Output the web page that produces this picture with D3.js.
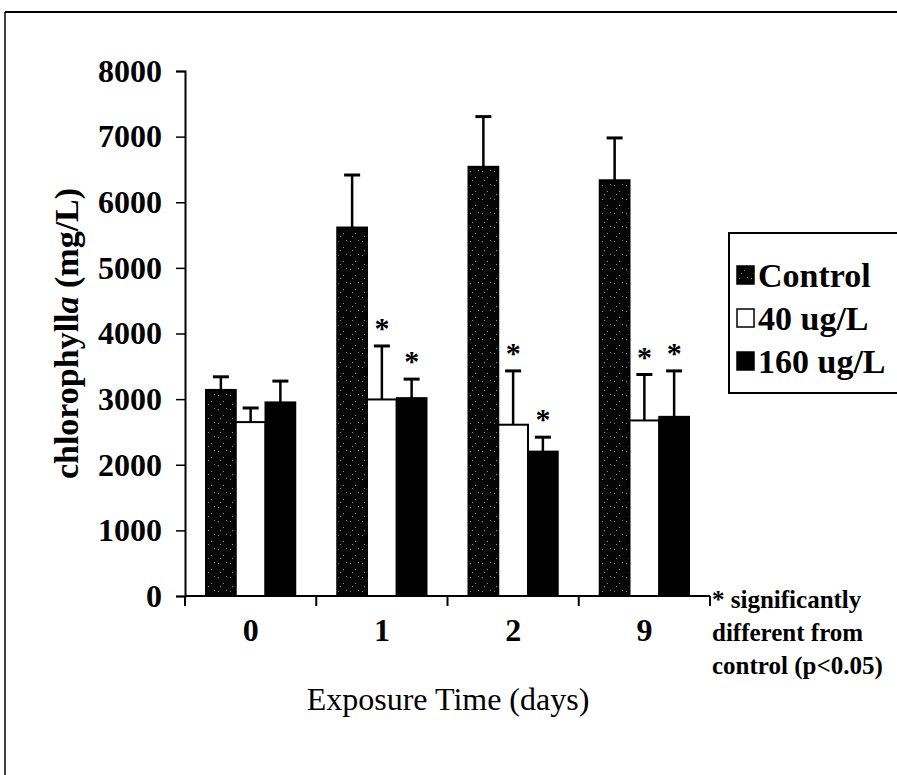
<!DOCTYPE html>
<html>
<head>
<meta charset="utf-8">
<script src="https://cdn.jsdelivr.net/npm/d3@7"></script>
<style>
    body { margin: 0; background: #fff; }
    text { font-family: "Liberation Serif", "Times New Roman", serif; }
</style>
</head>
<body>
<svg id="chart" width="897" height="775"></svg>
<script>
// data
var days = ["0", "1", "2", "9"];
var groups = ["Control", "40 ug/L", "160 ug/L"];
var controlMean = [3140, 5615, 6540, 6335];
var controlErr  = [200, 800, 765, 645];
var low40Mean   = [2650, 2995, 2610, 2675];
var low40Err    = [215, 815, 820, 700];
var high160Mean = [2950, 3015, 2200, 2730];
var high160Err  = [325, 290, 220, 700];
// star = significantly different from control
var low40Sig    = [false, true, true, true];
var high160Sig  = [false, true, true, true];
var yTicks = [0, 1000, 2000, 3000, 4000, 5000, 6000, 7000, 8000];
var noteLines = ["* significantly", "different from", "control (p<0.05)"];

(function(){
    var means = [controlMean, low40Mean, high160Mean];
    var errs = [controlErr, low40Err, high160Err];
    var sigs = [null, low40Sig, high160Sig];

    var rows = [];
    days.forEach(function(d, i){
        groups.forEach(function(g, j){
            rows.push({day: d, group: g, idx: j, value: means[j][i], err: errs[j][i], sig: sigs[j] ? sigs[j][i] : false});
        });
    });

    var svg = d3.select("#chart");
    var mLeft = 185, mRight = 710, mTop = 71, mBottom = 596;

    // speckled fill for control bars
    var defs = svg.append("defs");
    var pat = defs.append("pattern")
        .attr("id", "speckle")
        .attr("patternUnits", "userSpaceOnUse")
        .attr("width", 12).attr("height", 14);
    pat.append("rect").attr("width", 12).attr("height", 14).attr("fill", "#050505");
    [[2,3],[7,9],[10,2],[4,12]].forEach(function(p){
        pat.append("rect").attr("x", p[0]).attr("y", p[1]).attr("width", 1).attr("height", 1).attr("fill", "#8a8a8a");
    });

    function fillFor(idx){
        if (idx === 0) return "url(#speckle)";
        if (idx === 1) return "#fff";
        return "#000";
    }

    // frame lines of the original figure
    svg.append("line").attr("x1", 5).attr("y1", 12).attr("x2", 897).attr("y2", 12)
        .attr("stroke", "#000").attr("stroke-width", 2);
    svg.append("line").attr("x1", 5).attr("y1", 12).attr("x2", 5).attr("y2", 775)
        .attr("stroke", "#000").attr("stroke-width", 1.5);

    var y = d3.scaleLinear().domain([0, 8000]).range([mBottom, mTop]);
    var x = d3.scaleBand().domain(days).range([mLeft, mRight]).paddingInner(0.32).paddingOuter(0.16);
    var xi = d3.scaleBand().domain(groups).range([0, x.bandwidth()]);

    // y axis
    var yAxis = svg.append("g")
        .attr("transform", "translate(" + mLeft + ",0)")
        .call(d3.axisLeft(y).tickValues(yTicks).tickFormat(d3.format("d")).tickSize(9).tickPadding(14));
    yAxis.select(".domain").attr("stroke-width", 2);
    yAxis.selectAll(".tick line").attr("stroke-width", 1.5);
    yAxis.selectAll("text").attr("font-size", 32).attr("font-weight", "bold")
        .attr("font-family", "Liberation Serif").attr("fill", "#000");

    // bars
    var bars = svg.append("g").selectAll("g.bar")
        .data(rows).enter().append("g");

    bars.append("rect")
        .attr("x", function(d){ return x(d.day) + xi(d.group); })
        .attr("y", function(d){ return y(d.value); })
        .attr("width", xi.bandwidth())
        .attr("height", function(d){ return y(0) - y(d.value); })
        .attr("fill", function(d){ return fillFor(d.idx); })
        .attr("stroke", "#000").attr("stroke-width", 2);

    // error bars (upper only)
    function cx(d){ return x(d.day) + xi(d.group) + xi.bandwidth()/2; }
    bars.append("line")
        .attr("x1", cx).attr("x2", cx)
        .attr("y1", function(d){ return y(d.value); })
        .attr("y2", function(d){ return y(d.value + d.err); })
        .attr("stroke", "#000").attr("stroke-width", 2.5);
    bars.append("line")
        .attr("x1", function(d){ return cx(d) - 8; })
        .attr("x2", function(d){ return cx(d) + 8; })
        .attr("y1", function(d){ return y(d.value + d.err); })
        .attr("y2", function(d){ return y(d.value + d.err); })
        .attr("stroke", "#000").attr("stroke-width", 3);

    // stars
    bars.filter(function(d){ return d.sig; }).append("text")
        .attr("x", cx)
        .attr("y", function(d){ return y(d.value + d.err) - 8; })
        .attr("text-anchor", "middle")
        .attr("font-size", 30).attr("font-weight", "bold")
        .text("*");

    // x axis: line with ticks at the group boundaries
    svg.append("line").attr("x1", mLeft).attr("x2", mRight).attr("y1", mBottom).attr("y2", mBottom)
        .attr("stroke", "#000").attr("stroke-width", 2);
    var bounds = days.map(function(d){ return x(d) - x.step() * x.paddingInner() / 2; });
    bounds.push(mRight);
    svg.append("g").selectAll("line").data(bounds).enter().append("line")
        .attr("x1", function(d){ return d; }).attr("x2", function(d){ return d; })
        .attr("y1", mBottom).attr("y2", mBottom + 10)
        .attr("stroke", "#000").attr("stroke-width", 2);

    var xAxis = svg.append("g")
        .attr("transform", "translate(0," + mBottom + ")")
        .call(d3.axisBottom(x).tickSize(0).tickPadding(22));
    xAxis.select(".domain").remove();
    xAxis.selectAll("text").attr("font-size", 32).attr("font-weight", "bold")
        .attr("font-family", "Liberation Serif").attr("fill", "#000");

    // axis titles
    svg.append("text")
        .attr("x", 448).attr("y", 710)
        .attr("text-anchor", "middle")
        .attr("font-size", 32)
        .text("Exposure Time (days)");

    var yt = svg.append("text")
        .attr("transform", "translate(78," + ((mTop + mBottom)/2) + ") rotate(-90)")
        .attr("text-anchor", "middle")
        .attr("font-size", 34).attr("font-weight", "bold");
    yt.append("tspan").text("chlorophyll");
    yt.append("tspan").attr("font-style", "italic").text("a");
    yt.append("tspan").text("  (mg/L)");

    // legend
    var lg = svg.append("g").attr("transform", "translate(729,233)");
    lg.append("rect").attr("x", 0).attr("y", 0).attr("width", 175).attr("height", 160)
        .attr("fill", "#fff").attr("stroke", "#000").attr("stroke-width", 2);
    var item = lg.selectAll("g.item").data(groups).enter().append("g")
        .attr("transform", function(d, i){ return "translate(8," + (42 + i * 43) + ")"; });
    item.append("rect")
        .attr("x", 0).attr("y", -9).attr("width", 17).attr("height", 18)
        .attr("fill", function(d, i){ return fillFor(i); })
        .attr("stroke", "#000").attr("stroke-width", 1.5);
    item.append("text")
        .attr("x", 21).attr("y", 12)
        .attr("font-size", 34).attr("font-weight", "bold")
        .text(function(d){ return d; });

    // footnote
    svg.append("text")
        .attr("x", 712).attr("y", 608)
        .attr("font-size", 25).attr("font-weight", "bold")
        .selectAll("tspan").data(noteLines).enter().append("tspan")
        .attr("x", 712).attr("dy", function(d, i){ return i === 0 ? 0 : 33; })
        .text(function(d){ return d; });
})();
</script>
</body>
</html>
